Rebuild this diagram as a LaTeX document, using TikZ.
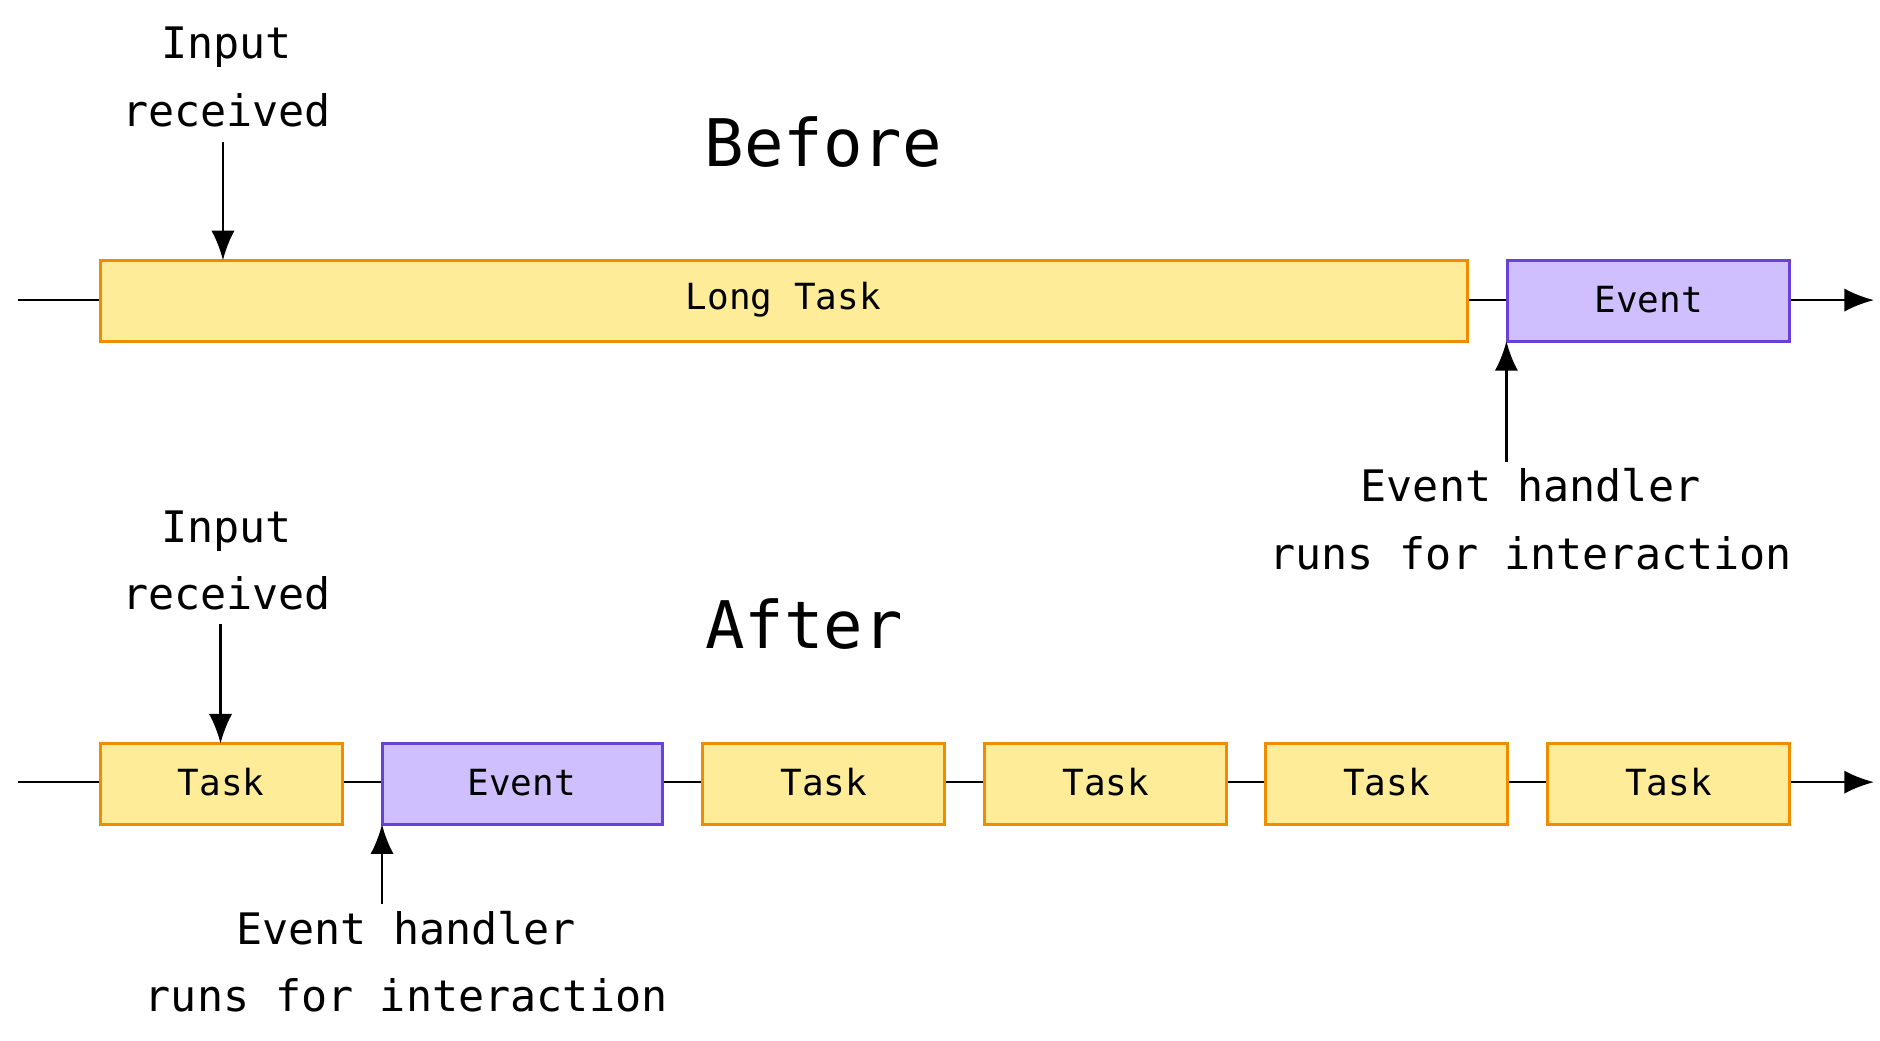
\documentclass[tikz,border=0pt]{standalone}
\usepackage{fontspec}
\setmonofont{DejaVu Sans Mono}
\usetikzlibrary{arrows.meta}
\definecolor{taskfill}{HTML}{FFEC99}
\definecolor{taskline}{HTML}{F08C00}
\definecolor{eventfill}{HTML}{D0BFFF}
\definecolor{eventline}{HTML}{6741D9}
\tikzset{
  taskbox/.style={draw=taskline,fill=taskfill,line width=1.4pt},
  eventbox/.style={draw=eventline,fill=eventfill,line width=1.4pt},
  boxlabel/.style={font=\ttfamily\fontsize{17}{20}\selectfont},
  note/.style={font=\ttfamily\fontsize{20.5}{32}\selectfont,align=center},
  heading/.style={font=\ttfamily\fontsize{31}{36}\selectfont},
  timeline/.style={line width=1.2pt,-{Latex[length=14pt,width=11pt]}},
  pointer/.style={line width=1.2pt,-{Latex[length=14pt,width=11pt]}}
}
\begin{document}
\begin{tikzpicture}[x=0.02cm,y=-0.02cm]
    \useasboundingbox (0,0) rectangle (1560,863);
    % before
    \coordinate (t1s) at (15,249);
    \coordinate (t1e) at (1555,249);
    \draw[timeline] (t1s) -- (t1e);
    \draw[taskbox] (83,216) rectangle (1218,283);
    \node[boxlabel] (long) at (650,249) {Long Task};
    \draw[eventbox] (1251,216) rectangle (1485,283);
    \node[boxlabel] (ev1) at (1368,249) {Event};
    \node[heading] (before) at (683,118) {Before};
    \node[note] (in1) at (188,64) {Input\\received};
    \coordinate (in1tip) at (185,216);
    \draw[pointer] (185,118) -- (in1tip);
    \node[note] (h1) at (1270,431) {Event handler\\runs for interaction};
    \coordinate (h1tip) at (1250,283);
    \draw[pointer] (1250,383) -- (h1tip);
    % after
    \coordinate (t2s) at (15,649);
    \coordinate (t2e) at (1555,649);
    \draw[timeline] (t2s) -- (t2e);
    \foreach \x [count=\i] in {83,583,817,1050,1284} {
        \draw[taskbox] (\x,617) rectangle (\x+201,684);
        \node[boxlabel] (task\i) at (\x+100.5,649) {Task};
    }
    \draw[eventbox] (317,617) rectangle (550,684);
    \node[boxlabel] (ev2) at (433,649) {Event};
    \node[heading] (after) at (667,518) {After};
    \node[note] (in2) at (188,465) {Input\\received};
    \coordinate (in2tip) at (183,617);
    \draw[pointer] (183,518) -- (in2tip);
    \node[note] (h2) at (337,798) {Event handler\\runs for interaction};
    \coordinate (h2tip) at (317,684);
    \draw[pointer] (317,750) -- (h2tip);
\end{tikzpicture}
\end{document}
